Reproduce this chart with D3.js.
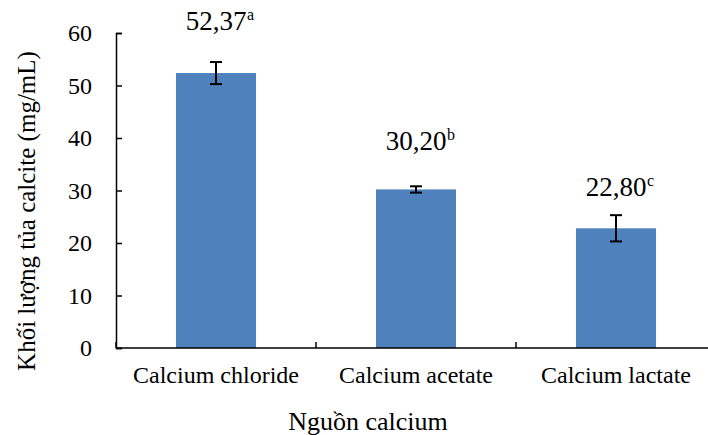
<!DOCTYPE html>
<html>
<head>
<meta charset="utf-8">
<script src="https://cdn.jsdelivr.net/npm/d3@7"></script>
</head>
<body style="margin:0;padding:0;background:#fff">
<svg id="chart" width="708" height="435" style="display:block"></svg>
<script>
// Calcite precipitate by calcium source
const categories = ["Calcium chloride", "Calcium acetate", "Calcium lactate"];
const means = [52.37, 30.20, 22.80];
const errors = [2.1, 0.6, 2.5];
const letters = ["a", "b", "c"];
const valueLabels = ["52,37", "30,20", "22,80"];
const yTicks = [0, 10, 20, 30, 40, 50, 60];

// label gap above each error bar (px)
const labelGap = [32, 36, 19];

const FONT = '"Liberation Serif", "Times New Roman", serif';

const svg = d3.select("#chart");
const plotLeft = 116, plotRight = 716, plotTop = 33, plotBottom = 348;

const x = d3.scaleBand()
  .domain(categories)
  .range([plotLeft, plotRight])
  .paddingInner(0.6)
  .paddingOuter(0.3);

const y = d3.scaleLinear().domain([0, 60]).range([plotBottom, plotTop]);

// bars
svg.append("g").selectAll("rect")
  .data(categories)
  .join("rect")
  .attr("x", d => x(d))
  .attr("y", (d, i) => y(means[i]))
  .attr("width", x.bandwidth())
  .attr("height", (d, i) => y(0) - y(means[i]))
  .attr("fill", "#4F81BD");

// error bars
const eb = svg.append("g").attr("stroke", "#000").attr("stroke-width", 2);
categories.forEach((c, i) => {
  const cx = x(c) + x.bandwidth() / 2;
  const y1 = y(means[i] + errors[i]), y2 = y(means[i] - errors[i]);
  eb.append("line").attr("x1", cx).attr("x2", cx).attr("y1", y1).attr("y2", y2);
  eb.append("line").attr("x1", cx - 6).attr("x2", cx + 6).attr("y1", y1).attr("y2", y1);
  eb.append("line").attr("x1", cx - 6).attr("x2", cx + 6).attr("y1", y2).attr("y2", y2);
});

// value labels with significance letters
categories.forEach((c, i) => {
  const cx = x(c) + x.bandwidth() / 2;
  const by = y(means[i] + errors[i]) - labelGap[i];
  const t = svg.append("text")
    .attr("x", cx).attr("y", by)
    .attr("text-anchor", "middle")
    .style("font-family", FONT)
    .style("font-size", "27px")
    .attr("fill", "#000")
    .text(valueLabels[i]);
  const w = t.node().getComputedTextLength();
  svg.append("text")
    .attr("x", cx + w / 2 + 0.5).attr("y", by - 10)
    .style("font-family", FONT)
    .style("font-size", "16px")
    .attr("fill", "#000")
    .text(letters[i]);
});

// y axis
const yAxis = svg.append("g").attr("transform", `translate(${plotLeft},0)`)
  .call(d3.axisLeft(y).tickValues(yTicks).tickSize(-6).tickPadding(24).tickFormat(d3.format("d")));
yAxis.select(".domain").attr("stroke", "#000").attr("stroke-width", 1.5);
yAxis.selectAll(".tick line").attr("stroke", "#000").attr("stroke-width", 1.5);
yAxis.selectAll(".tick text")
  .style("font-family", FONT)
  .style("font-size", "24px")
  .attr("fill", "#000");

// x axis: line with category-boundary ticks
const xAxis = svg.append("g");
xAxis.append("line")
  .attr("x1", plotLeft).attr("x2", plotRight)
  .attr("y1", plotBottom).attr("y2", plotBottom)
  .attr("stroke", "#000").attr("stroke-width", 1.5);
d3.range(categories.length + 1).forEach(k => {
  const bx = plotLeft + k * x.step();
  xAxis.append("line")
    .attr("x1", bx).attr("x2", bx)
    .attr("y1", plotBottom).attr("y2", plotBottom - 6)
    .attr("stroke", "#000").attr("stroke-width", 1.5);
});
xAxis.selectAll("text.cat")
  .data(categories)
  .join("text")
  .attr("class", "cat")
  .attr("x", d => x(d) + x.bandwidth() / 2)
  .attr("y", 383)
  .attr("text-anchor", "middle")
  .style("font-family", FONT)
  .style("font-size", "24px")
  .attr("fill", "#000")
  .text(d => d);

// axis titles
svg.append("text")
  .attr("x", 368).attr("y", 430)
  .attr("text-anchor", "middle")
  .style("font-family", FONT)
  .style("font-size", "26px")
  .attr("fill", "#000")
  .text("Nguồn calcium");

svg.append("text")
  .attr("transform", "translate(35,211) rotate(-90)")
  .attr("text-anchor", "middle")
  .style("font-family", FONT)
  .style("font-size", "25px")
  .attr("fill", "#000")
  .text("Khối lượng tủa calcite (mg/mL)");
</script>
</body>
</html>
